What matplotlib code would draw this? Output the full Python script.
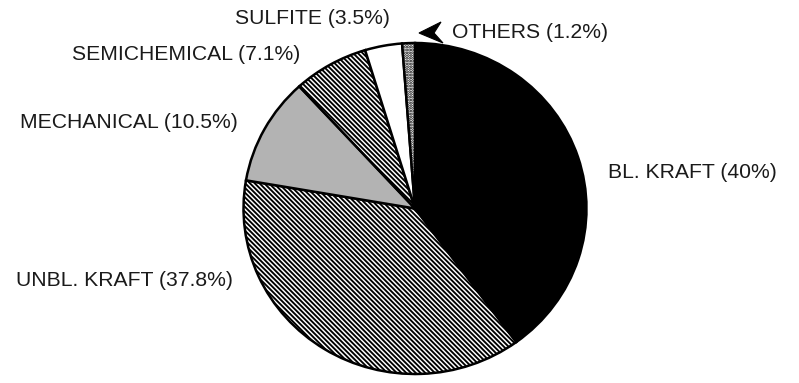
import matplotlib
matplotlib.use("Agg")
import matplotlib.pyplot as plt
from matplotlib.patches import Polygon

plt.rcParams['font.family'] = ['Liberation Sans', 'DejaVu Sans']
plt.rcParams['hatch.linewidth'] = 1.35

categories = ["BL. KRAFT", "UNBL. KRAFT", "MECHANICAL", "SEMICHEMICAL", "SULFITE", "OTHERS"]
shares = [40.0, 37.8, 10.5, 7.1, 3.5, 1.2]
labels = ["BL. KRAFT (40%)", "UNBL. KRAFT (37.8%)", "MECHANICAL (10.5%)",
          "SEMICHEMICAL (7.1%)", "SULFITE (3.5%)", "OTHERS (1.2%)"]

W, H = 799, 383
fig = plt.figure(figsize=(W / 100, H / 100), dpi=100)
ax = fig.add_axes([0, 0, 1, 1])

cx, cy = 415.0, 208.5      # pie centre in pixels
rx, ry = 171.5, 165.5      # pixel radii

wedges, _ = ax.pie(shares, startangle=90, counterclock=False,
                   radius=1.0, center=(0, 0),
                   wedgeprops=dict(edgecolor='black', linewidth=1.8))

faces = ['black', 'white', '#b3b3b3', 'white', 'white', 'white']
hatches = [None, '\\' * 7, None, '\\' * 7, None, '.' * 6]
for w, fc, h in zip(wedges, faces, hatches):
    w.set_facecolor(fc)
    if h:
        w.set_hatch(h)

ax.set_aspect('auto')
ax.set_xlim(-cx / rx, (W - cx) / rx)
ax.set_ylim(-(H - cy) / ry, cy / ry)
ax.axis('off')

def px(x, y):
    return (x - cx) / rx, (cy - y) / ry

label_pos = [(608, 172), (16, 281), (20, 122), (72, 54), (235, 18), (452, 32)]
for lab, (x, y) in zip(labels, label_pos):
    ax.text(*px(x, y), lab, ha='left', va='center', fontsize=15.2, color='#1a1a1a')

# chevron pointer for OTHERS
chev = [px(419, 33), px(441, 22), px(434, 33), px(443, 43)]
ax.add_patch(Polygon(chev, closed=True, facecolor='black', edgecolor='black', linewidth=0.8))

fig.savefig("out.png", dpi=100, facecolor='white')
